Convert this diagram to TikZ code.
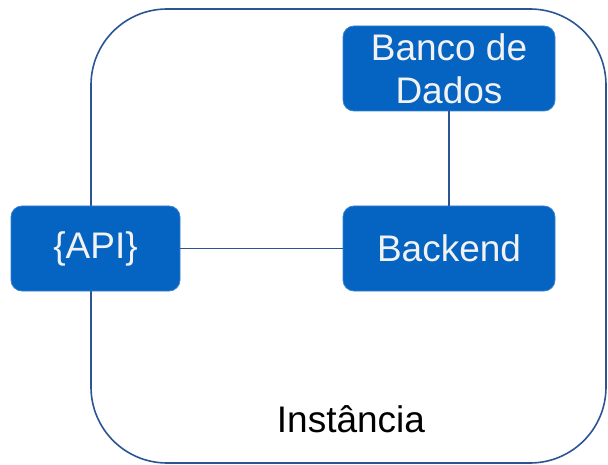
\documentclass[tikz,border=0pt]{standalone}
\usepackage{fontspec}
\setmainfont{Liberation Sans}
\usetikzlibrary{positioning}
\definecolor{boxblue}{HTML}{0563C1}
\definecolor{edgeblue}{HTML}{2B5592}
\definecolor{boxtext}{HTML}{F2F2F2}

\begin{document}
\begin{tikzpicture}[
    x=1pt, y=-1pt,
    every node/.style={
        font=\fontsize{37}{43}\selectfont,
    },
    block/.style={
        fill=boxblue, draw=boxblue!80!white, line width=0.8pt,
        rounded corners=11pt, text=boxtext, align=center,
        minimum height=85pt, inner sep=0pt,
    },
    link/.style={edgeblue, line width=1.6pt},
]
    \useasboundingbox (0,0) rectangle (608,465);
    % instance frame
    \draw[link, rounded corners=76pt] (91,9) rectangle (606,463);
    \node[anchor=base] (inst) at (351,432) {Inst\^ancia};
    % components
    \node[block, minimum width=212pt] (backend) at (449,248.5) {Backend};
    \node[block, minimum width=212pt] (db) at (449,68.5) {Banco de\\Dados};
    \node[block, minimum width=169pt] (api) at (95.5,248.5) {\{API\}};
    \draw[link] (api.east) -- (backend.west);
    \draw[link] (db.south) -- (backend.north);
\end{tikzpicture}
\end{document}
